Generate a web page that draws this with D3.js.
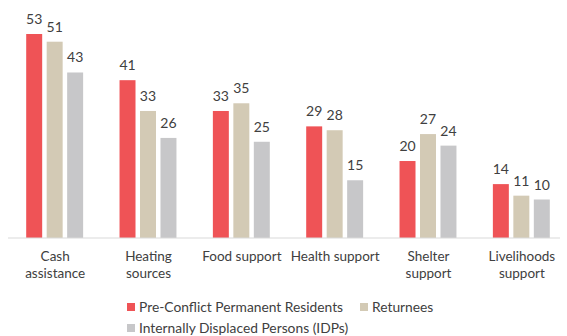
<!DOCTYPE html>
<html>
<head>
<meta charset="utf-8">
<script src="https://cdn.jsdelivr.net/npm/d3@7"></script>
<style>
  body { margin: 0; background: #fff; }
  text { font-family: Lato, "Open Sans", sans-serif; fill: #404040; }
</style>
</head>
<body>
<div id="chart"></div>
<script>
// Data
var categories = [["Cash", "assistance"], ["Heating", "sources"], ["Food support"],
                  ["Health support"], ["Shelter", "support"], ["Livelihoods", "support"]];
var seriesNames = ["Pre-Conflict Permanent Residents", "Returnees", "Internally Displaced Persons (IDPs)"];
var residents = [53, 41, 33, 29, 20, 14];
var returnees = [51, 33, 35, 28, 27, 11];
var idps = [43, 26, 25, 15, 24, 10];
var colors = ["#EF5356", "#D3CAB5", "#C7C7C9"];

function init() {
    var w = 567, h = 336;
    var baseline = 238;
    var values = [residents, returnees, idps];

    var svg = d3.select("#chart").append("svg")
        .attr("width", w)
        .attr("height", h);

    // outer scale: one band per category
    var x0 = d3.scaleBand()
        .domain(d3.range(categories.length))
        .range([8, 568])
        .paddingInner(0.39)
        .paddingOuter(0.195);

    // inner scale: one bar per series
    var x1 = d3.scaleBand()
        .domain(d3.range(seriesNames.length))
        .range([0, x0.bandwidth()])
        .paddingInner(0.22);

    var y = d3.scaleLinear()
        .domain([0, 53])
        .range([baseline, baseline - 204]);

    var groups = svg.selectAll("g.series")
        .data(values)
        .enter()
        .append("g")
        .attr("class", "series")
        .style("fill", function(d, i) { return colors[i]; })
        .attr("transform", function(d, i) { return "translate(" + x1(i) + ",0)"; });

    groups.selectAll("rect")
        .data(function(d) { return d; })
        .enter()
        .append("rect")
        .attr("x", function(d, i) { return x0(i); })
        .attr("y", function(d) { return y(d); })
        .attr("width", x1.bandwidth())
        .attr("height", function(d) { return baseline - y(d); });

    groups.selectAll("text")
        .data(function(d) { return d; })
        .enter()
        .append("text")
        .attr("x", function(d, i) { return x0(i) + x1.bandwidth() / 2; })
        .attr("y", function(d) { return y(d) - 10; })
        .attr("text-anchor", "middle")
        .style("font-size", "14px")
        .style("fill", "#404040")
        .text(function(d) { return d; });

    // baseline axis with category labels
    var xAxis = d3.axisBottom(d3.scalePoint()
            .domain(d3.range(categories.length))
            .range([x0(0) + x0.bandwidth() / 2, x0(5) + x0.bandwidth() / 2]))
        .tickSize(0)
        .tickFormat("");

    var axisG = svg.append("g")
        .attr("transform", "translate(0," + baseline + ")")
        .call(xAxis);
    axisG.select(".domain").remove();
    axisG.append("line")
        .attr("x1", 8).attr("x2", 560)
        .attr("stroke", "#D9D9D9")
        .attr("stroke-width", 1.2);

    axisG.selectAll(".tick").each(function(d) {
        var t = d3.select(this).append("text")
            .attr("text-anchor", "middle")
            .style("font-size", "13.5px")
            .style("fill", "#404040");
        categories[d].forEach(function(line, k) {
            t.append("tspan")
                .attr("x", 0)
                .attr("y", 23 + k * 17)
                .text(line);
        });
    });

    // legend
    var legendPos = [[127, 312], [360, 312], [127, 333]];
    var legend = svg.selectAll(".legend")
        .data(seriesNames)
        .enter()
        .append("g")
        .attr("class", "legend")
        .attr("transform", function(d, i) {
            return "translate(" + legendPos[i][0] + "," + legendPos[i][1] + ")";
        });

    legend.append("rect")
        .attr("x", 0)
        .attr("y", -9)
        .attr("width", 8)
        .attr("height", 8)
        .style("fill", function(d, i) { return colors[i]; });

    legend.append("text")
        .attr("x", 12)
        .attr("y", 0)
        .style("font-size", "13.8px")
        .text(function(d) { return d; });
}

window.onload = init;
</script>
</body>
</html>
